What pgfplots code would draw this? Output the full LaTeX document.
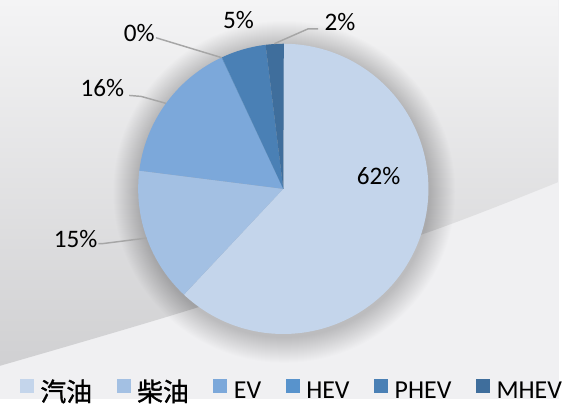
\documentclass[border=0pt]{standalone}
\usepackage{pgfplots}
\pgfplotsset{compat=1.18}
\usepackage{pgfplotstable}
\usepackage{fontspec}
\setmainfont{Carlito}
\newfontfamily\cjk[FakeBold=1.2]{Noto Sans CJK SC}

\definecolor{bg}{HTML}{F0F0F2}
\definecolor{bgtop}{HTML}{F4F4F5}
\definecolor{bgdark}{HTML}{D0D0D2}
\definecolor{c1}{HTML}{C4D5EB}
\definecolor{c2}{HTML}{A3C0E3}
\definecolor{c3}{HTML}{7CA8DA}
\definecolor{c4}{HTML}{5893CC}
\definecolor{c5}{HTML}{4A80B5}
\definecolor{c6}{HTML}{3F6E9C}
\definecolor{leader}{HTML}{A6A6A6}

% share of each type, in percent (clockwise from 12 o'clock)
\pgfplotstableread{
id pct
1 62
2 15
3 16
4 0
5 5
6 2
}\piedata

\newcommand\pieslice[3]{%
  \addplot[fill=#3, draw=none, domain=#1:#2, samples=\ns, variable=\t]
    ({285+146*cos(t)},{211+146*sin(t)}) -- (axis cs:285,211) -- cycle;}
\newcommand\nextangle[1]{%
  \pgfplotstablegetelem{#1}{pct}\of\piedata
  \pgfmathsetmacro\angB{min(\angA-0.2,\angA-3.6*\pgfplotsretval)}%
  \pgfmathtruncatemacro\ns{max(2,3*\pgfplotsretval)}}

\begin{document}
\begin{tikzpicture}[x=0.75pt,y=0.75pt]
\fill[bg] (0,0) rectangle (562,401);
\shade[top color=bgtop, bottom color=bgdark]
  plot[smooth] coordinates {(0,33) (190,89) (427,166) (562,218)} -- (562,401) -- (0,401) -- cycle;
\foreach \r in {147,148,...,172} \fill[black,opacity=0.009] (286,208) circle (\r);
\begin{axis}[
  at={(0,0)}, anchor=south west,
  scale only axis, width=421.5pt, height=300.75pt,
  xmin=0, xmax=562, ymin=0, ymax=401,
  hide axis, clip=false,
  legend columns=6,
  legend image code/.code={\fill[#1,draw=none] (0pt,-1.5pt) rectangle (10.5pt,9.5pt);},
  legend style={at={(0.0356,0.019)}, anchor=west, draw=none, fill=none,
    inner sep=0pt, outer sep=0pt,
    font=\fontsize{19.5}{21}\selectfont,
    nodes={inner sep=0pt},
    /tikz/every odd column/.append style={column sep=5pt},
    /tikz/every even column/.append style={column sep=18.5pt}},
]
\pgfmathsetmacro\angA{90}
\nextangle{0}\pieslice{\angB}{\angA}{c1}\addlegendentry{\cjk 汽油}
\let\angA\angB
\nextangle{1}\pieslice{\angB}{\angA}{c2}\addlegendentry{\cjk 柴油}
\let\angA\angB
\nextangle{2}\pieslice{\angB}{\angA}{c3}\addlegendentry{EV}
\let\angA\angB
\nextangle{3}\pieslice{\angB}{\angA}{c4}\addlegendentry{HEV}
\let\angA\angB
\nextangle{4}\pieslice{\angB}{\angA}{c5}\addlegendentry{PHEV}
\let\angA\angB
\nextangle{5}\pieslice{\angB}{\angA}{c6}\addlegendentry{MHEV}

% leader lines
\draw[leader, line width=1.1pt] (axis cs:99,156) -- (axis cs:104,156) -- (axis cs:147.6,161.5);
\draw[leader, line width=1.1pt] (axis cs:130,305) -- (axis cs:142,304) -- (axis cs:167,297);
\draw[leader, line width=1.1pt] (axis cs:157,363) -- (axis cs:223,343);
\draw[leader, line width=1.1pt] (axis cs:320,372) -- (axis cs:310,372) -- (axis cs:276,357);

% percentage labels
\tikzset{pl/.style={font=\fontsize{19}{20}\selectfont, text=black, inner sep=0pt}}
\node[pl] at (axis cs:381,224) {62\%};
\node[pl] at (axis cs:76,161) {15\%};
\node[pl] at (axis cs:103,312) {16\%};
\node[pl] at (axis cs:140,368) {0\%};
\node[pl] at (axis cs:240,381) {5\%};
\node[pl] at (axis cs:342,379) {2\%};
\end{axis}
\end{tikzpicture}
\end{document}
